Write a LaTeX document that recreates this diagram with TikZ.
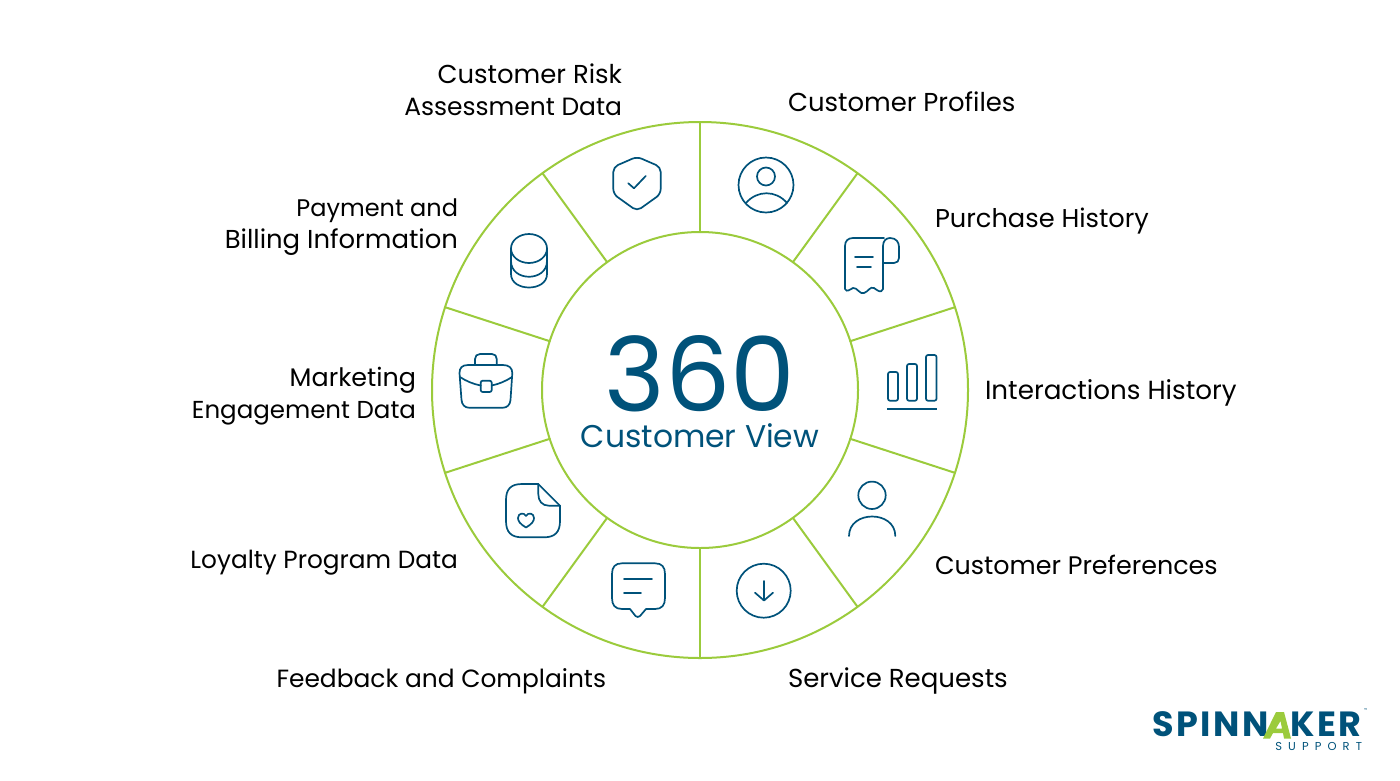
\documentclass[tikz,border=0pt]{standalone}
\usepackage{fontspec}
\setmainfont{Poppins}
\newfontfamily\logofont[LetterSpace=7.5]{Poppins}
\newfontfamily\subfont[LetterSpace=53]{Poppins}
\definecolor{spingreen}{HTML}{9BCB3C}
\definecolor{spinblue}{HTML}{00527A}
\newcommand{\lblsize}[1]{\fontsize{#1}{32}\selectfont}
\begin{document}
\begin{tikzpicture}[x=1pt,y=-1pt,line join=round,line cap=round]
  \tikzstyle{every node}=[inner sep=0pt,outer sep=0pt]
  \tikzstyle{ring}=[circle,draw=spingreen,line width=2pt]
  \tikzstyle{spoke}=[draw=spingreen,line width=2pt]
  \tikzstyle{lblleft}=[text=black,anchor=east,align=right]
  \tikzstyle{lblright}=[text=black,anchor=west,align=left]
  \tikzstyle{icon}=[draw=spinblue,line width=1.7pt]
  \useasboundingbox (0,0) rectangle (1400,780);

  \node[ring,minimum size=536pt](rim) at (700,390) {};
  \node[ring,minimum size=316pt](hub) at (700,390) {};
  \foreach \a in {90,54,18,-18,-54,-90,-126,-162,162,126}
    \draw[spoke] (hub.\a) -- (rim.\a);

  \node[text=spinblue,font=\fontsize{103}{103}\selectfont](num) at (700,374) {360};
  \node[text=spinblue,font=\fontsize{31.4}{36}\selectfont](view) at (700,436) {Customer View};

  \node[lblleft,font=\lblsize{25}]   (risk)      at (622,90)  {\lblsize{25.9}Customer Risk\\\lblsize{24.95}Assessment Data};
  \node[lblright,font=\lblsize{25.9}](profiles)  at (788,102) {Customer Profiles};
  \node[lblright,font=\lblsize{25.7}](purchase)  at (935,221) {Purchase History};
  \node[lblright,font=\lblsize{26.2}](interact)  at (985,393) {Interactions History};
  \node[lblright,font=\lblsize{25.4}](prefs)     at (935,565) {Customer Preferences};
  \node[lblright,font=\lblsize{26}]  (service)   at (788,681) {Service Requests};
  \node[lblleft,font=\lblsize{24.9}] (feedback)  at (606,681) {Feedback and Complaints};
  \node[lblleft,font=\lblsize{24.8}] (loyalty)   at (458,563) {Loyalty Program Data};
  \node[lblleft,font=\lblsize{25}]   (marketing) at (416,396) {\lblsize{25.4}Marketing\\\lblsize{24.5}Engagement Data};
  \node[lblleft,font=\lblsize{25}]   (payment)   at (458,227) {\lblsize{24}Payment and\\\lblsize{25.9}Billing Information};

  % profile
  \draw[icon] (766,185) circle[radius=27.5];
  \draw[icon] (766,176.5) circle[radius=9];
  \draw[icon] (746,203) .. controls (757,190) and (776,190) .. (787,203);
  % receipt
  \draw[icon] (884,238) -- (853,238) .. controls (848,238) and (845,241) .. (845,246) -- (845,289)
    .. controls (847,293) and (850,289) .. (853,288) .. controls (857,287) and (860,295) .. (864,293)
    .. controls (868,292) and (870,286) .. (874,288) .. controls (877,290) and (881,294) .. (883,289) -- (883,246)
    .. controls (883,241) and (886,238) .. (890,238) .. controls (896,238) and (899,242) .. (899,247)
    -- (899,258) .. controls (899,261) and (897,263) .. (894,263) -- (883,263);
  \draw[icon] (855,256.7) -- (873,256.7);
  \draw[icon] (857,267.3) -- (871,267.3);
  % bars
  \draw[icon,rounded corners=2pt] (888,372) rectangle (898,400.7);
  \draw[icon,rounded corners=2pt] (907,364) rectangle (917,400.7);
  \draw[icon,rounded corners=2pt] (926,355) rectangle (936.5,400.7);
  \draw[icon,line cap=butt,line width=2pt] (887,408.7) -- (937,408.7);
  % person
  \draw[icon] (872,495.3) circle[radius=13.7];
  \draw[icon] (849,536) .. controls (849,510) and (895.3,510) .. (895.3,536);
  % download
  \draw[icon] (763.7,590.7) circle[radius=27];
  \draw[icon] (764,581) -- (764,600);
  \draw[icon] (755,592.7) -- (764,600.5) -- (773,592.7);
  % chat
  \draw[icon] (630,609) -- (622,609) .. controls (615,609) and (612,605) .. (612,598) -- (612,574)
    .. controls (612,567) and (615,563.3) .. (622,563.3) -- (655,563.3)
    .. controls (662,563.3) and (665,567) .. (665,574) -- (665,598)
    .. controls (665,605) and (662,609) .. (655,609) -- (646,609)
    -- (640,616) .. controls (638.5,617.3) and (637,617.3) .. (635.5,616) -- cycle;
  \draw[icon] (624,579) -- (652,579);
  \draw[icon] (624,592.7) -- (641,592.7);
  % document
  \draw[icon] (538.3,484) -- (522,484) .. controls (511,484) and (506,489) .. (506,500) -- (506,521)
    .. controls (506,532) and (511,537.3) .. (522,537.3) -- (544,537.3)
    .. controls (555,537.3) and (560,532) .. (560,521) -- (560,505.7) -- cycle;
  \draw[icon] (538.3,484) -- (538.3,494) .. controls (538.3,501) and (542,505.7) .. (549,505.7) -- (560,505.7);
  \draw[icon] (526,527.5) .. controls (520,524) and (518,521) .. (518,518) .. controls (518,513) and (524,512) .. (526,516)
    .. controls (528,512) and (534,513) .. (534,518) .. controls (534,521) and (532,524) .. (526,527.5) -- cycle;
  % briefcase
  \draw[icon] (468,365) -- (503,365) .. controls (509,365) and (512.3,368) .. (512.3,373) -- (510.5,400)
    .. controls (510,405) and (507,407.7) .. (503,407.7) -- (469,407.7)
    .. controls (465,407.7) and (462,405) .. (461.5,400) -- (459.5,373) .. controls (459.5,368) and (462,365) .. (468,365) -- cycle;
  \draw[icon] (475,365) -- (475,359) .. controls (475,356) and (477,354) .. (480,354) -- (492,354)
    .. controls (495,354) and (496.7,356) .. (496.7,359) -- (496.7,365);
  \draw[icon] (460,377) .. controls (466,381) and (473,384) .. (480.7,385.5);
  \draw[icon] (491.7,385.5) .. controls (499,384) and (506,381) .. (512,377);
  \draw[icon,rounded corners=2pt] (480.7,380.7) rectangle (491.7,392);
  % database
  \draw[icon] (529,248.5) ellipse[x radius=18,y radius=14.5];
  \draw[icon] (511,248.5) -- (511,274) .. controls (511,292) and (547,292) .. (547,274) -- (547,248.5);
  \draw[icon] (511,261) .. controls (511,282) and (547,282) .. (547,261);
  % shield
  \draw[icon,rounded corners=5pt] (637,156.7) -- (660.7,167) -- (660.7,194) -- (637,211) -- (613.3,194) -- (613.3,167) -- cycle;
  \draw[icon] (628.3,183.3) -- (634,188.3) -- (645.7,176);

  % logo
  \node[text=spinblue,font=\logofont\fontsize{35}{35}\selectfont\bfseries,anchor=west](logoa) at (1152,724.5) {SPINN};
  \node[text=spinblue,font=\logofont\fontsize{35}{35}\selectfont\bfseries,anchor=west](logob) at (1290,724.5) {KER};
  \fill[spingreen,even odd rule] (1263,738.5) -- (1276,712) -- (1284,712) -- (1291,738.5) -- (1284,738.5) -- (1283,733) -- (1273,733) -- (1270,738.5) -- cycle
    (1276,728.5) -- (1282,728.5) -- (1280.5,721) -- cycle;
  \node[text=spinblue,font=\subfont\fontsize{11.5}{11.5}\selectfont,anchor=east](support) at (1362,746) {SUPPORT};
  \node[text=spinblue,font=\fontsize{4}{4}\selectfont,anchor=west](tm) at (1364,710) {™};
\end{tikzpicture}
\end{document}
